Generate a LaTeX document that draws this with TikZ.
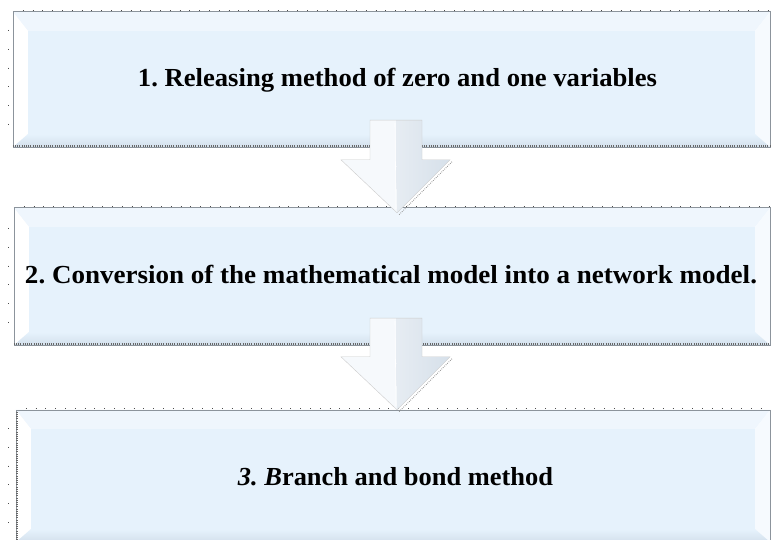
\documentclass[tikz,border=0pt]{standalone}
\usepackage{fontspec}
\setmainfont{Liberation Serif}
\usetikzlibrary{calc}
\frenchspacing
\definecolor{boxfill}{HTML}{E6F2FC}
\definecolor{bevtop}{HTML}{EFF6FD}
\definecolor{bevbot}{HTML}{D3E0EC}
\definecolor{bevright}{HTML}{F6FAFE}
\definecolor{edgegray}{HTML}{8C949C}
\definecolor{arrlight}{HTML}{F6F9FC}
\definecolor{arrdark}{HTML}{D6E0EA}
\newcommand{\fitw}[2]{\resizebox{#1}{\height}{#2}}
\newcommand{\drawbevel}[1]{%
  \coordinate (#1NW) at (#1.north west);
  \coordinate (#1NE) at (#1.north east);
  \coordinate (#1SE) at (#1.south east);
  \coordinate (#1SW) at (#1.south west);
  \coordinate (#1iNW) at ($(#1.north west)+(15,19)$);
  \coordinate (#1iNE) at ($(#1.north east)+(-15,19)$);
  \coordinate (#1iSE) at ($(#1.south east)+(-15,-13)$);
  \coordinate (#1iSW) at ($(#1.south west)+(15,-13)$);
  \fill[boxfill] (#1iNW) rectangle (#1iSE);
  \fill[bevtop] (#1NW) -- (#1NE) -- (#1iNE) -- (#1iNW) -- cycle;
  \fill[white] (#1NW) -- (#1iNW) -- (#1iSW) -- (#1SW) -- cycle;
  \fill[bevright] (#1NE) -- (#1SE) -- (#1iSE) -- (#1iNE) -- cycle;
  \shade[top color=boxfill, bottom color=bevbot] (#1SW) -- (#1SE) -- (#1iSE) -- (#1iSW) -- cycle;
  \draw[edgegray, line width=0.6pt] (#1NW) rectangle (#1SE);
  \draw[black!70, line width=0.8pt, dash pattern=on 0.8pt off 9pt] ($(#1NW)+(10,-1)$) -- ($(#1NE)+(0,-1)$);
}
\newcommand{\blockarrow}[2]{%
  \path let \p1=(#1), \p2=(#2) in
    coordinate (#1L) at (\x1-26,\y1)
    coordinate (#1R) at (\x1+26,\y1)
    coordinate (#1hL) at (\x1-26,\y2+53)
    coordinate (#1hR) at (\x1+26,\y2+53)
    coordinate (#1wL) at (\x1-55,\y2+53)
    coordinate (#1wR) at (\x1+54,\y2+53)
    coordinate (#1c) at (\x1,\y1);
  \draw[black!45, line width=0.9pt, dash pattern=on 0.7pt off 1.3pt] ($(#1wR)+(2,2)$) -- ($(#2)+(2,2)$);
  \fill[arrlight] (#1L) -- (#1c) -- (#2) -- (#1wL) -- (#1hL) -- cycle;
  \shade[left color=arrdark!60!white, right color=arrdark] (#1c) -- (#1R) -- (#1hR) -- (#1wR) -- (#2) -- cycle;
  \draw[black!20, line width=0.4pt] (#1L) -- (#1R) -- (#1hR) -- (#1wR) -- (#2) -- (#1wL) -- (#1hL) -- cycle;
  \draw[white, line width=0.6pt] ($(#1c)+(-1,3)$) -- ($(#2)+(-1,-4)$);
}
\begin{document}
\begin{tikzpicture}[x=1pt,y=-1pt,
  boxnode/.style={rectangle, inner sep=0pt},
  label/.style={font=\bfseries\fontsize{26}{30}\selectfont, inner sep=0pt, anchor=base}]
\useasboundingbox (0,0) rectangle (772,540);
\fill[white] (0,0) rectangle (772,540);
\node[boxnode, minimum width=757pt, minimum height=135pt] (b1) at (391.5,79.5) {};
\node[boxnode, minimum width=756pt, minimum height=137pt] (b2) at (392,276.5) {};
\node[boxnode, minimum width=754pt, minimum height=132pt] (b3) at (393,476) {};
\drawbevel{b1}
\drawbevel{b2}
\drawbevel{b3}
\draw[black!60, line width=2pt, dash pattern=on 1pt off 1.2pt] ($(b1SW)+(0,-1)$) -- ($(b1SE)+(0,-1)$);
\draw[black!60, line width=2pt, dash pattern=on 1pt off 1.2pt] ($(b2SW)+(0,-1)$) -- ($(b2SE)+(0,-1)$);
\draw[black!60, line width=2pt, dash pattern=on 1pt off 1.2pt] ($(b3NW)+(1,2)$) -- ($(b3SW)+(1,0)$);
\draw[black!70, line width=0.8pt, dash pattern=on 0.8pt off 18pt] (8,30) -- (8,140);
\draw[black!70, line width=0.8pt, dash pattern=on 0.8pt off 18pt] (8,228) -- (8,340);
\draw[black!70, line width=0.8pt, dash pattern=on 0.8pt off 18pt] (8,428) -- (8,535);
\node[label] (t1) at ($(b1.center)+(6,7.5)$) {\fitw{519pt}{1. Releasing method of zero and one variables}};
\node[label] (t2) at ($(b2.center)+(-1,7.5)$) {\fitw{732pt}{2. Conversion of the mathematical model into a network model.}};
\node[label] (t3) at ($(b3.center)+(2.5,9)$) {\fitw{315pt}{\textit{3. B}ranch and bond method}};
\coordinate (a1s) at ($(b1.south)+(4.5,-27)$);
\coordinate (a1e) at ($(b2.north)+(5,5)$);
\coordinate (a2s) at ($(b2.south)+(4,-27)$);
\coordinate (a2e) at ($(b3.north)+(4,0)$);
\blockarrow{a1s}{a1e}
\blockarrow{a2s}{a2e}
\end{tikzpicture}
\end{document}
